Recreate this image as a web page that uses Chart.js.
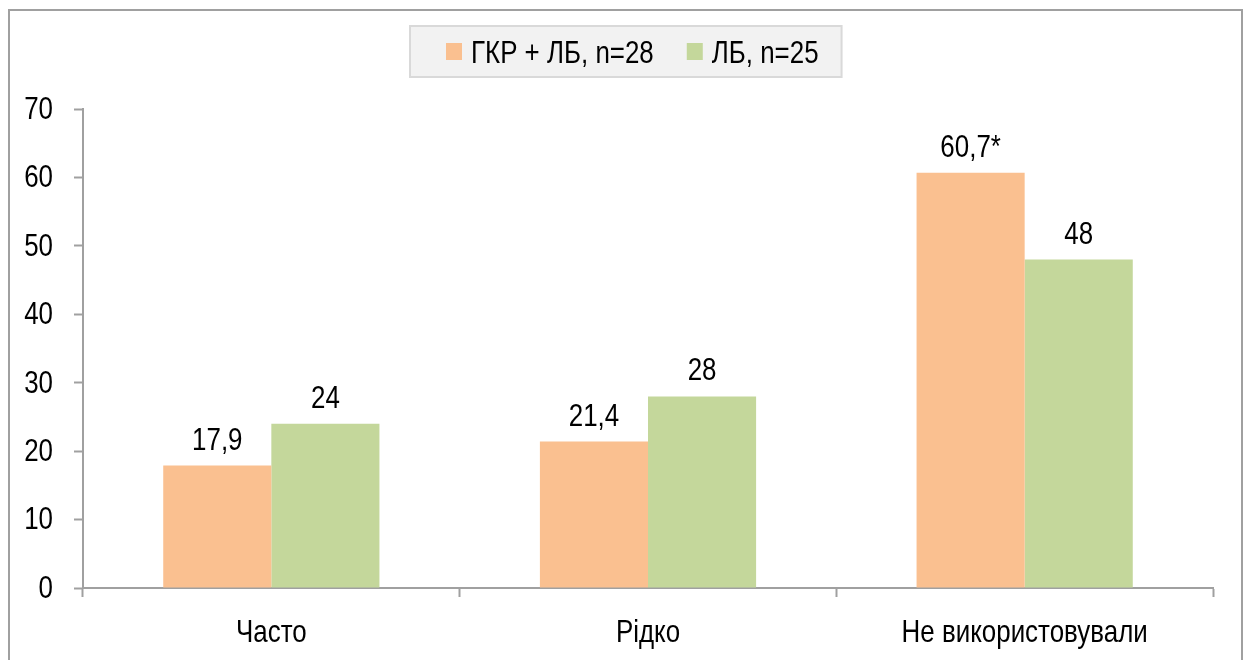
<!DOCTYPE html>
<html>
<head>
<meta charset="utf-8">
<title>Частота використання</title>
<script src="https://cdn.jsdelivr.net/npm/chart.js@4/dist/chart.umd.min.js"></script>
<style>
  html, body { margin: 0; padding: 0; background: #ffffff; }
  #wrap { width: 1243px; height: 660px; position: relative; }
</style>
</head>
<body>
<div id="wrap"><canvas id="chart"></canvas></div>
<script>
// Categories and series values (percent)
const categories = ['Часто', 'Рідко', 'Не використовували'];
const seriesNames = ['ГКР + ЛБ, n=28', 'ЛБ, n=25'];
const groupA = [17.9, 21.4, 60.7];
const groupB = [24, 28, 48];
// significance marks appended to value labels
const marksA = ['', '', '*'];
const marksB = ['', '', ''];
const yTicks = [0, 10, 20, 30, 40, 50, 60, 70];

const FONT = '"Liberation Sans", Arial, sans-serif';
const FS = 32;
const SQUEEZE = 0.81;   // narrow lettering

const AXIS = '#a0a0a0';

// Text drawn condensed: fillText with a maxWidth narrower than the natural width
function narrowText(ctx, txt, x, y) {
  const w = ctx.measureText(txt).width;
  ctx.fillText(txt, x, y, w * SQUEEZE);
  return w * SQUEEZE;
}

// Outer frame and legend box
const framePlugin = {
  id: 'frame',
  beforeDraw(chart) {
    const ctx = chart.ctx;
    ctx.save();
    ctx.strokeStyle = AXIS;
    ctx.lineWidth = 2;
    ctx.strokeRect(9, 10, 1233, 700);
    ctx.restore();
  },
  afterDraw(chart) {
    const ctx = chart.ctx;
    ctx.save();
    ctx.font = FS + 'px ' + FONT;
    // measure legend entries
    const entries = chart.data.datasets.map(ds => ({
      label: ds.label,
      color: ds.backgroundColor,
      w: ctx.measureText(ds.label).width * SQUEEZE
    }));
    const boxLeft = 410, boxTop = 26, boxH = 51;
    const padL = 36, padR = 23, sq = 16, sqH = 17, gap = 9, between = 33;
    let total = 0;
    entries.forEach((e, i) => { total += sq + gap + e.w + (i ? between : 0); });
    const boxW = padL + total + padR;
    ctx.fillStyle = '#f2f2f2';
    ctx.fillRect(boxLeft, boxTop, boxW, boxH);
    ctx.strokeStyle = '#d9d9d9';
    ctx.lineWidth = 2;
    ctx.strokeRect(boxLeft, boxTop, boxW, boxH);
    let x = boxLeft + padL;
    const cy = boxTop + boxH / 2;
    ctx.textAlign = 'left';
    ctx.textBaseline = 'alphabetic';
    entries.forEach((e, i) => {
      if (i) x += between;
      ctx.fillStyle = e.color;
      ctx.fillRect(x, cy - sqH / 2, sq, sqH);
      x += sq + gap;
      ctx.fillStyle = '#000000';
      narrowText(ctx, e.label, x, cy + 11);
      x += e.w;
    });
    ctx.restore();
  }
};

// Axis labels and value labels above each bar
const textPlugin = {
  id: 'texts',
  afterDatasetsDraw(chart) {
    const ctx = chart.ctx;
    const xs = chart.scales.x, ys = chart.scales.y;
    ctx.save();
    ctx.font = FS + 'px ' + FONT;
    ctx.fillStyle = '#000000';

    // y tick labels
    ctx.textAlign = 'right';
    ctx.textBaseline = 'middle';
    yTicks.forEach(v => narrowText(ctx, String(v), ys.left + 53, ys.getPixelForValue(v) + 1));

    // category labels
    ctx.textAlign = 'center';
    ctx.textBaseline = 'alphabetic';
    categories.forEach((c, i) => narrowText(ctx, c, xs.getPixelForValue(i), xs.top + 54));

    // value labels
    const marks = [marksA, marksB];
    chart.data.datasets.forEach((ds, di) => {
      const meta = chart.getDatasetMeta(di);
      meta.data.forEach((bar, i) => {
        const txt = String(ds.data[i]).replace('.', ',') + marks[di][i];
        narrowText(ctx, txt, bar.x, bar.y - 16);
      });
    });
    ctx.restore();
  }
};

new Chart(document.getElementById('chart'), {
  type: 'bar',
  data: {
    labels: categories,
    datasets: [
      { label: seriesNames[0], data: groupA, backgroundColor: '#fac090', borderWidth: 0 },
      { label: seriesNames[1], data: groupB, backgroundColor: '#c4d79b', borderWidth: 0 }
    ]
  },
  options: {
    responsive: true,
    maintainAspectRatio: false,
    animation: false,
    events: [],
    layout: { padding: { top: 109, left: 0, right: 30, bottom: 0 } },
    datasets: { bar: { categoryPercentage: 0.574, barPercentage: 1.0 } },
    plugins: {
      legend: { display: false },
      tooltip: { enabled: false }
    },
    scales: {
      x: {
        grid: {
          offset: true,
          drawOnChartArea: false,
          drawTicks: true,
          tickLength: 9,
          tickColor: AXIS,
          tickWidth: 2
        },
        border: { display: true, color: AXIS, width: 2 },
        ticks: { display: false },
        afterFit(scale) { scale.height = 72; }
      },
      y: {
        min: 0,
        max: 70,
        afterBuildTicks(scale) { scale.ticks = yTicks.map(v => ({ value: v })); },
        grid: {
          drawOnChartArea: false,
          drawTicks: true,
          tickLength: 9,
          tickColor: AXIS,
          tickWidth: 2
        },
        border: { display: true, color: AXIS, width: 2 },
        ticks: { display: false },
        afterFit(scale) { scale.width = 83; }
      }
    }
  },
  plugins: [framePlugin, textPlugin]
});
</script>
</body>
</html>
